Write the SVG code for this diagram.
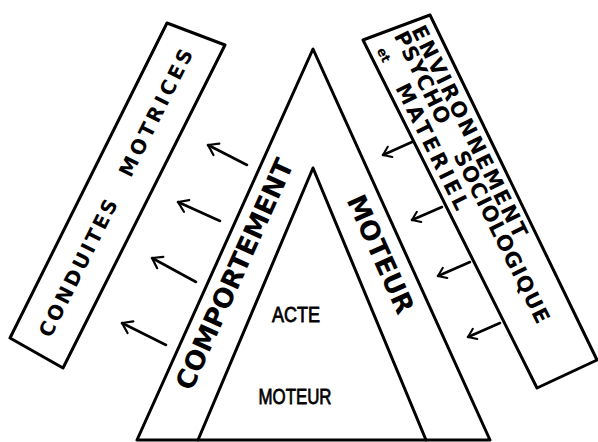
<svg xmlns="http://www.w3.org/2000/svg" width="598" height="442" viewBox="0 0 598 442">
<style>
.ln{fill:none;stroke:#000;stroke-width:3;stroke-linejoin:round;stroke-linecap:round}
.ar{fill:none;stroke:#000;stroke-width:2.6;stroke-linecap:round}
.big{font-family:"DejaVu Sans","Liberation Sans",sans-serif;font-weight:bold;font-size:26.5px;fill:#000}
.lab{font-family:"DejaVu Sans","Liberation Sans",sans-serif;font-weight:bold;fill:#000}
.mid{font-family:"Liberation Sans","DejaVu Sans",sans-serif;font-size:22px;fill:#000;stroke:#000;stroke-width:0.8}
</style>
<defs>
<marker id="hL" markerUnits="userSpaceOnUse" markerWidth="24" markerHeight="24" refX="0" refY="0" viewBox="-14 -12 28 24" orient="auto">
<path d="M-11,-7.5 L0,0 L-11,7.5" fill="none" stroke="#000" stroke-width="2.6" stroke-linecap="round" stroke-linejoin="round"/>
</marker>
<marker id="hR" markerUnits="userSpaceOnUse" markerWidth="24" markerHeight="24" refX="0" refY="0" viewBox="-14 -12 28 24" orient="auto">
<path d="M-9,-6.5 L0,0 L-9,6.5" fill="none" stroke="#000" stroke-width="2.4" stroke-linecap="round" stroke-linejoin="round"/>
</marker>
</defs>
<rect width="598" height="442" fill="#fff"/>

<g id="outer-triangle">
<polygon class="ln" points="313,49 137,440 490,440"/>
<text class="big" transform="translate(234,274) rotate(-65.7)" x="0" y="9.7" text-anchor="middle" textLength="250" lengthAdjust="spacingAndGlyphs">COMPORTEMENT</text>
<text class="big" transform="translate(381,254) rotate(65.9)" x="0" y="9.7" text-anchor="middle">MOTEUR</text>
</g>

<g id="inner-triangle">
<polyline class="ln" points="198,440 313,168 426,440"/>
<text class="mid" x="296" y="322" text-anchor="middle" textLength="48" lengthAdjust="spacingAndGlyphs">ACTE</text>
<text class="mid" x="295" y="404" text-anchor="middle" textLength="73" lengthAdjust="spacingAndGlyphs">MOTEUR</text>
</g>

<g id="conduites-motrices">
<polygon class="ln" points="167,23 225,45 63,368 10,338"/>
<text class="lab" font-size="20" transform="translate(116.25,193.5) rotate(-63.4)" x="-159.3" y="6.3"><tspan letter-spacing="2.6">CONDUITES </tspan><tspan x="20" letter-spacing="3.4">MOTRICES</tspan></text>
</g>

<g id="environnement">
<polygon class="ln" points="363,40 430,15 597,360 537,388"/>
<g transform="translate(482,201) rotate(63.6)">
<text class="lab" font-size="21" x="-185" y="-12.5" letter-spacing="2.3">ENVIRONNEMENT</text>
<text class="lab" font-size="21" x="-187.6" y="5.6"><tspan letter-spacing="1">PSYCHO </tspan><tspan x="-54" letter-spacing="1">SOCIOLOGIQUE</tspan></text>
<text class="lab" font-size="21" x="-182" y="27.5"><tspan font-size="13">et </tspan><tspan x="-140" letter-spacing="3.2">MATERIEL</tspan></text>
</g>
</g>

<g id="connectors">
<line class="ar" x1="247" y1="165" x2="208" y2="145" marker-end="url(#hL)"/>
<line class="ar" x1="220" y1="221" x2="178" y2="202" marker-end="url(#hL)"/>
<line class="ar" x1="196" y1="282" x2="152" y2="258" marker-end="url(#hL)"/>
<line class="ar" x1="166" y1="345" x2="122" y2="323" marker-end="url(#hL)"/>
<line class="ar" x1="412" y1="142" x2="383" y2="155" marker-end="url(#hR)"/>
<line class="ar" x1="442" y1="207" x2="412" y2="220" marker-end="url(#hR)"/>
<line class="ar" x1="470" y1="262" x2="438" y2="276" marker-end="url(#hR)"/>
<line class="ar" x1="500" y1="323" x2="468" y2="337" marker-end="url(#hR)"/>
</g>
</svg>
